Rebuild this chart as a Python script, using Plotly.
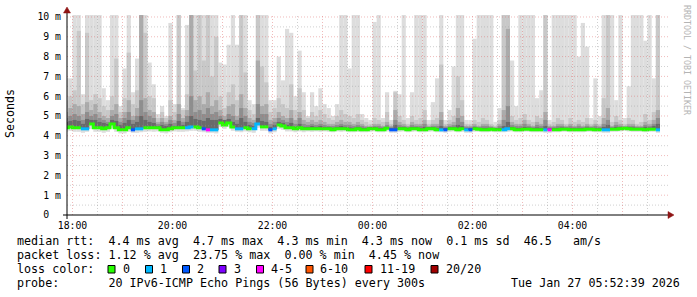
import plotly.graph_objects as go
from datetime import datetime, timedelta

# ---------------- data (ms) ----------------
first_step = "2026-01-26 17:50"   # start of the first 5-minute step
step_minutes = 5

smoke_max = [
    6.9, 6.9, 10.1, 10.1, 6.1, 10.1, 10.1, 10.1, 10.1, 6.4,
    5.8, 10.1, 10.1, 5.5, 7.4, 10.1, 6.2, 7.9, 10.1, 10.1,
    7.7, 6.6, 5.1, 5.5, 5.0, 9.7, 5.6, 10.1, 5.4, 9.6,
    10.1, 10.1, 10.1, 10.1, 10.1, 10.1, 10.1, 7.7, 7.6, 8.6,
    10.1, 8.6, 10.1, 10.1, 5.8, 5.6, 10.1, 10.1, 10.1, 5.8,
    5.8, 8.0, 6.8, 9.4, 9.2, 6.0, 8.3, 6.2, 5.0, 6.2,
    5.5, 6.4, 5.6, 5.4, 5.0, 5.6, 10.1, 10.1, 7.4, 10.1,
    10.1, 5.1, 4.9, 4.8, 9.75, 10.1, 4.9, 6.2, 4.8, 6.27,
    6.1, 10.1, 4.9, 6.2, 10.1, 10.1, 10.1, 4.8, 5.7, 6.9,
    10.1, 4.8, 5.3, 7.5, 10.1, 10.1, 4.8, 4.8, 8.9, 10.1,
    10.1, 10.1, 10.1, 4.7, 5.4, 10.1, 10.1, 7.8, 5.5, 10.1,
    10.1, 10.1, 10.1, 5.9, 6.3, 10.1, 4.8, 10.1, 10.1, 10.1,
    10.1, 10.1, 10.1, 8.0, 9.7, 8.5, 4.9, 6.9, 5.0, 10.1,
    10.1, 10.1, 5.8, 10.1, 4.9, 6.5, 10.1, 10.1, 10.1, 8.8,
    10.1, 6.9, 10.1,
]

smoke_q2 = [
    5.8, 6.0, 6.3, 9.3, 5.6, 9.2, 5.8, 6.1, 5.9, 5.5,
    5.3, 6.0, 7.9, 5.2, 5.9, 8.2, 5.6, 6.3, 10.1, 9.2,
    6.0, 5.9, 4.9, 5.2, 4.9, 5.8, 5.2, 10.1, 5.3, 6.1,
    10.1, 7.3, 10.1, 7.8, 10.1, 7.0, 9.0, 6.0, 5.4, 6.2,
    6.6, 5.8, 10.1, 7.2, 5.3, 5.1, 10.1, 7.5, 6.7, 5.2,
    5.4, 5.9, 5.6, 5.4, 6.6, 5.3, 6.4, 5.3, 4.9, 5.2,
    5.0, 5.3, 5.1, 4.9, 4.8, 5.0, 5.3, 5.1, 5.0, 4.9,
    5.1, 4.8, 4.7, 4.6, 4.9, 4.8, 4.7, 5.2, 4.6, 6.2,
    5.0, 4.8, 4.6, 5.0, 4.8, 4.9, 5.3, 4.6, 4.8, 4.9,
    7.6, 4.6, 4.8, 5.0, 7.0, 5.8, 4.6, 4.6, 4.8, 4.7,
    4.9, 4.8, 4.6, 4.5, 4.8, 10.1, 10.1, 5.0, 4.8, 4.9,
    5.1, 4.8, 4.7, 5.0, 4.9, 10.1, 4.6, 4.7, 4.9, 4.8,
    4.6, 4.9, 4.7, 4.8, 4.7, 4.9, 4.6, 4.8, 4.6, 5.9,
    10.1, 4.7, 5.0, 4.8, 4.6, 4.9, 4.8, 4.6, 4.7, 5.1,
    4.8, 5.2, 10.1,
]

smoke_q3 = [
    5.2, 5.4, 5.6, 5.5, 5.1, 5.7, 5.3, 5.6, 5.2, 5.0,
    4.9, 5.3, 5.6, 4.9, 5.2, 5.8, 5.0, 5.4, 10.1, 5.9,
    5.3, 5.2, 4.7, 4.9, 4.7, 5.0, 4.8, 5.6, 4.9, 5.3,
    10.1, 5.8, 6.0, 5.6, 6.2, 5.5, 5.8, 5.3, 5.0, 5.5,
    5.6, 5.0, 6.1, 5.4, 4.9, 4.8, 7.8, 5.5, 5.6, 4.8,
    4.9, 5.2, 5.0, 4.9, 5.3, 4.8, 5.2, 4.8, 4.7, 4.8,
    4.7, 4.8, 4.7, 4.6, 4.6, 4.7, 4.8, 4.7, 4.7, 4.6,
    4.7, 4.6, 4.5, 4.5, 4.6, 4.6, 4.5, 4.7, 4.5, 5.3,
    4.7, 4.6, 4.5, 4.7, 4.6, 4.6, 4.8, 4.5, 4.6, 4.6,
    5.2, 4.5, 4.6, 4.7, 5.4, 5.0, 4.5, 4.5, 4.6, 4.5,
    4.6, 4.6, 4.5, 4.45, 4.6, 5.3, 9.4, 4.7, 4.6, 4.6,
    4.8, 4.6, 4.5, 4.7, 4.6, 5.2, 4.5, 4.5, 4.6, 4.6,
    4.5, 4.6, 4.5, 4.6, 4.5, 4.6, 4.5, 4.6, 4.5, 4.9,
    5.4, 4.5, 4.7, 4.6, 4.5, 4.6, 4.6, 4.5, 4.5, 4.7,
    4.6, 4.8, 5.3,
]

smoke_q4 = [
    4.9, 5.0, 5.1, 5.0, 4.8, 5.2, 5.0, 5.1, 4.9, 4.8,
    4.7, 5.0, 5.1, 4.7, 4.9, 5.2, 4.8, 5.0, 5.8, 5.2,
    5.0, 4.9, 4.6, 4.7, 4.6, 4.8, 4.65, 5.1, 4.7, 5.0,
    6.0, 5.2, 5.3, 5.1, 5.4, 5.1, 5.2, 5.0, 4.8, 5.1,
    5.0, 4.8, 5.4, 5.0, 4.7, 4.65, 5.6, 5.1, 5.1, 4.6,
    4.7, 4.9, 4.8, 4.7, 4.9, 4.6, 4.9, 4.6, 4.55, 4.6,
    4.55, 4.6, 4.55, 4.5, 4.5, 4.55, 4.6, 4.55, 4.55, 4.5,
    4.55, 4.5, 4.45, 4.45, 4.5, 4.5, 4.45, 4.55, 4.45, 4.8,
    4.55, 4.5, 4.45, 4.55, 4.5, 4.5, 4.6, 4.45, 4.5, 4.5,
    4.8, 4.45, 4.5, 4.55, 4.9, 4.7, 4.45, 4.45, 4.5, 4.45,
    4.5, 4.5, 4.45, 4.4, 4.5, 4.8, 5.5, 4.55, 4.5, 4.5,
    4.6, 4.5, 4.45, 4.55, 4.5, 4.8, 4.45, 4.45, 4.5, 4.5,
    4.45, 4.5, 4.45, 4.5, 4.45, 4.5, 4.45, 4.5, 4.45, 4.6,
    4.8, 4.45, 4.55, 4.5, 4.45, 4.5, 4.5, 4.45, 4.45, 4.55,
    4.5, 4.6, 4.9,
]

smoke_q5 = [
    4.7, 4.75, 4.8, 4.75, 4.6, 4.85, 4.8, 4.8, 4.7, 4.65,
    4.6, 4.8, 4.75, 4.55, 4.65, 4.8, 4.6, 4.7, 5.0, 4.8,
    4.7, 4.65, 4.5, 4.55, 4.5, 4.6, 4.5, 4.75, 4.55, 4.7,
    5.0, 4.85, 4.8, 4.75, 4.9, 4.8, 4.8, 4.85, 4.8, 4.85,
    4.7, 4.6, 4.9, 4.7, 4.55, 4.5, 4.9, 4.75, 4.7, 4.45,
    4.55, 4.7, 4.65, 4.55, 4.65, 4.45, 4.6, 4.45, 4.45, 4.5,
    4.45, 4.5, 4.45, 4.45, 4.4, 4.45, 4.5, 4.45, 4.42, 4.4,
    4.45, 4.4, 4.38, 4.4, 4.42, 4.4, 4.38, 4.45, 4.38, 4.55,
    4.45, 4.42, 4.38, 4.45, 4.42, 4.4, 4.45, 4.4, 4.42, 4.4,
    4.5, 4.38, 4.42, 4.45, 4.55, 4.5, 4.38, 4.38, 4.42, 4.4,
    4.4, 4.4, 4.4, 4.36, 4.4, 4.5, 4.7, 4.45, 4.4, 4.4,
    4.45, 4.42, 4.38, 4.42, 4.4, 4.5, 4.38, 4.38, 4.4, 4.42,
    4.4, 4.4, 4.38, 4.4, 4.38, 4.42, 4.4, 4.4, 4.38, 4.45,
    4.55, 4.4, 4.45, 4.42, 4.45, 4.42, 4.42, 4.4, 4.4, 4.45,
    4.42, 4.5, 4.6,
]

smoke_min = [
    4.2, 4.25, 4.2, 4.2, 4.15, 4.2, 4.35, 4.2, 4.2, 4.15,
    4.2, 4.4, 4.2, 4.12, 4.12, 4.2, 4.15, 4.15, 4.18, 4.2,
    4.22, 4.2, 4.22, 4.15, 4.12, 4.18, 4.22, 4.2, 4.2, 4.22,
    4.25, 4.25, 4.2, 4.18, 4.15, 4.15, 4.12, 4.45, 4.35, 4.45,
    4.25, 4.2, 4.18, 4.22, 4.18, 4.15, 4.4, 4.25, 4.25, 4.12,
    4.18, 4.35, 4.3, 4.22, 4.22, 4.18, 4.22, 4.18, 4.22, 4.2,
    4.22, 4.2, 4.22, 4.2, 4.18, 4.22, 4.2, 4.22, 4.18, 4.18,
    4.2, 4.18, 4.18, 4.2, 4.22, 4.18, 4.18, 4.22, 4.15, 4.15,
    4.2, 4.22, 4.18, 4.2, 4.22, 4.18, 4.18, 4.2, 4.22, 4.18,
    4.18, 4.15, 4.2, 4.22, 4.18, 4.2, 4.15, 4.15, 4.2, 4.2,
    4.18, 4.18, 4.2, 4.18, 4.18, 4.18, 4.2, 4.22, 4.18, 4.18,
    4.2, 4.2, 4.18, 4.18, 4.18, 4.15, 4.15, 4.18, 4.18, 4.2,
    4.2, 4.18, 4.18, 4.18, 4.18, 4.2, 4.2, 4.18, 4.18, 4.15,
    4.15, 4.2, 4.2, 4.22, 4.25, 4.22, 4.2, 4.2, 4.2, 4.18,
    4.2, 4.2, 4.15,
]

median_ms = [
    4.4, 4.45, 4.4, 4.4, 4.35, 4.35, 4.6, 4.4, 4.4, 4.35,
    4.4, 4.6, 4.4, 4.3, 4.3, 4.4, 4.3, 4.35, 4.35, 4.4,
    4.4, 4.4, 4.4, 4.3, 4.3, 4.35, 4.4, 4.4, 4.4, 4.4,
    4.45, 4.45, 4.4, 4.35, 4.3, 4.3, 4.3, 4.65, 4.55, 4.65,
    4.45, 4.35, 4.35, 4.4, 4.35, 4.35, 4.6, 4.45, 4.45, 4.3,
    4.35, 4.55, 4.5, 4.4, 4.4, 4.35, 4.4, 4.35, 4.35, 4.35,
    4.35, 4.35, 4.35, 4.35, 4.3, 4.35, 4.35, 4.35, 4.3, 4.3,
    4.35, 4.3, 4.3, 4.35, 4.35, 4.3, 4.3, 4.38, 4.3, 4.3,
    4.35, 4.35, 4.3, 4.35, 4.35, 4.3, 4.3, 4.35, 4.35, 4.3,
    4.3, 4.3, 4.35, 4.35, 4.3, 4.35, 4.3, 4.3, 4.35, 4.33,
    4.3, 4.3, 4.33, 4.3, 4.3, 4.3, 4.35, 4.35, 4.3, 4.3,
    4.33, 4.33, 4.3, 4.3, 4.3, 4.3, 4.3, 4.3, 4.3, 4.33,
    4.33, 4.3, 4.3, 4.3, 4.3, 4.33, 4.33, 4.3, 4.3, 4.3,
    4.3, 4.33, 4.33, 4.35, 4.38, 4.35, 4.33, 4.33, 4.33, 4.3,
    4.33, 4.33, 4.3,
]

loss_pings = [
    0, 0, 0, 0, 1, 1, 0, 0, 0, 0,
    0, 0, 0, 0, 0, 0, 2, 1, 1, 0,
    0, 0, 0, 0, 0, 0, 0, 0, 0, 1,
    1, 0, 0, 2, 4, 1, 1, 0, 0, 0,
    0, 1, 1, 0, 0, 1, 1, 0, 0, 2,
    1, 0, 0, 0, 0, 0, 0, 0, 0, 0,
    0, 0, 0, 0, 0, 0, 0, 0, 0, 0,
    0, 0, 0, 0, 0, 0, 0, 0, 2, 2,
    0, 0, 0, 0, 0, 0, 0, 0, 0, 0,
    1, 2, 0, 0, 0, 0, 1, 2, 0, 0,
    0, 0, 0, 0, 0, 1, 1, 0, 0, 0,
    0, 0, 0, 0, 0, 1, 4, 0, 0, 0,
    0, 0, 0, 0, 0, 0, 0, 0, 0, 1,
    1, 0, 0, 0, 0, 0, 0, 0, 0, 0,
    0, 0, 1,
]

loss_labels = ["0", "1", "2", "3", "4-5", "6-10", "11-19", "20/20"]
loss_colors = ["#26ff00", "#00b8ff", "#0059ff", "#7e00ff", "#ff00ff", "#ff5500", "#ff0000", "#a10000"]

x_tick_vals = ["2026-01-26 18:00", "2026-01-26 20:00", "2026-01-26 22:00",
               "2026-01-27 00:00", "2026-01-27 02:00", "2026-01-27 04:00"]
x_tick_text = ["18:00", "20:00", "22:00", "00:00", "02:00", "04:00"]
y_tick_vals = [0, 1, 2, 3, 4, 5, 6, 7, 8, 9, 10]
y_tick_text = ["0  ", "1 m", "2 m", "3 m", "4 m", "5 m", "6 m", "7 m", "8 m", "9 m", "10 m"]

stat_lines = [
    "median rtt:  4.4 ms avg  4.7 ms max  4.3 ms min  4.3 ms now  0.1 ms sd  46.5   am/s",
    "packet loss: 1.12 % avg  23.75 % max  0.00 % min  4.45 % now",
    "loss color:",
    "probe:       20 IPv6-ICMP Echo Pings (56 Bytes) every 300s",
]
timestamp_text = "Tue Jan 27 05:52:39 2026"
y_title = "Seconds"
credit_text = "RRDTOOL / TOBI OETIKER"

# ---------------- geometry / styles ----------------
W, H = 697, 297
L, R, T, B = 67, 668, 15, 215
x_range = ["2026-01-26 17:53:24", "2026-01-27 05:54:36"]
y_max = 10.1
mono = "DejaVu Sans Mono"
smoke_colors = ["#dddddd", "#c8c8c8", "#ababab", "#8e8e8e", "#6a6a6a"]


def px(x):
    return (x - L) / (R - L)


def py(y):
    return (B - y) / (B - T)


def nb(s):
    return s.replace(" ", "\u00a0")


n = len(median_ms)
for arr in (smoke_max, smoke_q2, smoke_q3, smoke_q4, smoke_q5, smoke_min, loss_pings):
    assert len(arr) == n, len(arr)

t0 = datetime.strptime(first_step, "%Y-%m-%d %H:%M")
step = timedelta(minutes=step_minutes)
starts = [t0 + i * step for i in range(n)]
centers = [s + step / 2 for s in starts]
width_ms = step_minutes * 60 * 1000

fig = go.Figure()

# smoke: outer (light) layer from min to max, inner darker layers from median
layers = [(smoke_min, smoke_max), (median_ms, smoke_q2), (median_ms, smoke_q3),
          (median_ms, smoke_q4), (median_ms, smoke_q5)]
for (lo, hi), col in zip(layers, smoke_colors):
    fig.add_trace(go.Bar(
        x=centers, base=lo, y=[h - l for l, h in zip(lo, hi)], width=width_ms,
        marker=dict(color=col, line=dict(width=0)), hoverinfo="skip"))


def loss_cat(v):
    if v <= 3:
        return v
    if v <= 5:
        return 4
    if v <= 10:
        return 5
    if v <= 19:
        return 6
    return 7


cats = [loss_cat(v) for v in loss_pings]
for k, col in enumerate(loss_colors):
    xs, ys = [], []
    i = 0
    while i < n:
        if cats[i] != k:
            i += 1
            continue
        j = i
        while j < n and cats[j] == k:
            xs.append(starts[j])
            ys.append(median_ms[j])
            j += 1
        xs.append(starts[j - 1] + step)
        ys.append(median_ms[j - 1])
        xs.append(None)
        ys.append(None)
        i = j
    if xs:
        fig.add_trace(go.Scatter(x=xs, y=ys, mode="lines", line=dict(color=col, width=3, shape="hv"),
                                 hoverinfo="skip"))

shapes = []
grid_minor = "rgba(150,150,150,0.45)"
grid_major = "rgba(220,90,90,0.42)"
dash = "1px,2px"
# horizontal grid
for k in range(1, 21):
    v = k * 0.5
    shapes.append(dict(type="line", xref="paper", yref="y", x0=0, x1=1, y0=v, y1=v, layer="above",
                       line=dict(color=grid_major if k % 2 == 0 else grid_minor, width=1, dash=dash)))
# vertical grid
xs0 = datetime.strptime(x_range[0], "%Y-%m-%d %H:%M:%S")
xs1 = datetime.strptime(x_range[1], "%Y-%m-%d %H:%M:%S")
g = datetime(2026, 1, 26, 17, 30)
while g <= xs1:
    if g > xs0:
        major = g.minute == 0
        shapes.append(dict(type="line", xref="x", yref="paper", x0=g, x1=g, y0=0, y1=1, layer="above",
                           line=dict(color=grid_major if major else grid_minor, width=1, dash=dash)))
    g += timedelta(minutes=30)

# axes lines and arrows
shapes.append(dict(type="line", xref="paper", yref="paper", x0=px(63), x1=px(669), y0=py(215), y1=py(215),
                   line=dict(color="#000000", width=1), layer="above"))
shapes.append(dict(type="line", xref="paper", yref="paper", x0=px(67), x1=px(67), y0=py(219), y1=py(12),
                   line=dict(color="#000000", width=1), layer="above"))
arrow_col = "#8f1414"
shapes.append(dict(type="path", xref="paper", yref="paper", layer="above",
                   path=f"M {px(668)},{py(211.5)} L {px(674)},{py(215)} L {px(668)},{py(218.5)} Z",
                   fillcolor=arrow_col, line=dict(color=arrow_col, width=0.5)))
shapes.append(dict(type="path", xref="paper", yref="paper", layer="above",
                   path=f"M {px(63.5)},{py(13)} L {px(67)},{py(7)} L {px(70.5)},{py(13)} Z",
                   fillcolor=arrow_col, line=dict(color=arrow_col, width=0.5)))

# legend boxes
box_left = [108, 145.5, 182.5, 219, 256.5, 306, 365, 431]
label_left = [121.5, 159, 196, 232.5, 270, 319, 379, 445]
for bx, col in zip(box_left, loss_colors):
    shapes.append(dict(type="rect", xref="paper", yref="paper", x0=px(bx), x1=px(bx + 7),
                       y0=py(273), y1=py(265.5), fillcolor=col, line=dict(color="#000000", width=1)))

annotations = []
row_y = [241, 255, 269, 283]
for txt, yy in zip(stat_lines, row_y):
    annotations.append(dict(text=nb(txt), x=px(16), y=py(yy), xref="paper", yref="paper",
                            xanchor="left", yanchor="middle", showarrow=False, borderpad=0,
                            font=dict(family=mono, size=11.7, color="#000000")))
for lx, lab in zip(label_left, loss_labels):
    annotations.append(dict(text=nb(lab), x=px(lx), y=py(269), xref="paper", yref="paper",
                            xanchor="left", yanchor="middle", showarrow=False, borderpad=0,
                            font=dict(family=mono, size=11.7, color="#000000")))
annotations.append(dict(text=nb(timestamp_text), x=px(681), y=py(283), xref="paper", yref="paper",
                        xanchor="right", yanchor="middle", showarrow=False, borderpad=0,
                        font=dict(family=mono, size=11.7, color="#000000")))
annotations.append(dict(text=y_title, x=px(10), y=py(114), xref="paper", yref="paper",
                        xanchor="center", yanchor="middle", showarrow=False, textangle=-90, borderpad=0,
                        font=dict(family=mono, size=11.6, color="#000000")))
annotations.append(dict(text=nb(credit_text), x=px(687), y=py(60), xref="paper", yref="paper",
                        xanchor="center", yanchor="middle", showarrow=False, textangle=90, borderpad=0,
                        font=dict(family=mono, size=8.3, color="#b4b4b4")))

fig.update_layout(
    width=W, height=H,
    margin=dict(l=L, r=W - R, t=T, b=H - B, pad=0),
    paper_bgcolor="#ffffff", plot_bgcolor="#ffffff",
    showlegend=False, barmode="overlay",
    font=dict(family=mono, size=9.8, color="#000000"),
    shapes=shapes, annotations=annotations,
    xaxis=dict(type="date", range=x_range, tickvals=x_tick_vals, ticktext=x_tick_text,
               showgrid=False, zeroline=False, showline=False, ticks="", ticklabelstandoff=3,
               tickfont=dict(family=mono, size=9.8, color="#000000")),
    yaxis=dict(range=[0, y_max], tickvals=y_tick_vals, ticktext=[nb(t) for t in y_tick_text],
               showgrid=False, zeroline=False, showline=False, ticks="", ticklabelstandoff=5,
               tickfont=dict(family=mono, size=9.8, color="#000000")),
)

fig.write_html("out.html")
